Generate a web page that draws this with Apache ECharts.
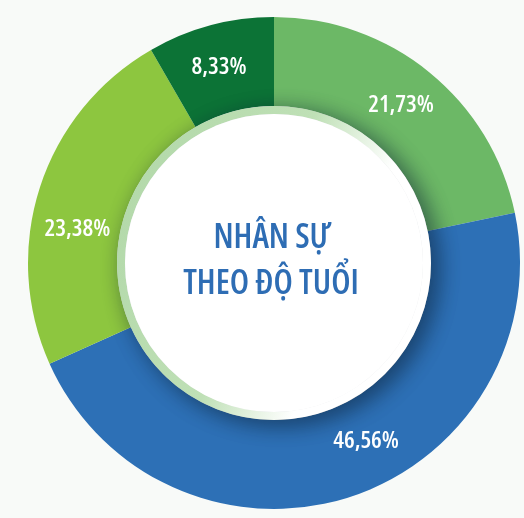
<!DOCTYPE html>
<html>
<head>
<meta charset="utf-8">
<style>
html,body{margin:0;padding:0;background:#f8faf8;}
#c{width:524px;height:518px;}
</style>
<script src="https://cdn.jsdelivr.net/npm/echarts@6/dist/echarts.min.js"></script>
</head>
<body>
<div id="c"></div>
<script>
var categories = ['Nhóm 1', 'Nhóm 2', 'Nhóm 3', 'Nhóm 4'];
var values = [21.73, 46.56, 23.38, 8.33];
var colors = ['#6cb866', '#2d70b6', '#8dc63f', '#0c7336'];
var labelOffsets = [[-2, 1], [29, -16], [-2, 29], [-2, 2]];
var titleLines = ['NHÂN SỰ', 'THEO ĐỘ TUỔI'];

var chart = echarts.init(document.getElementById('c'), null, {renderer: 'canvas'});
var data = categories.map(function (c, i) {
  return {
    name: c,
    value: values[i],
    itemStyle: {color: colors[i]},
    label: {offset: labelOffsets[i]}
  };
});
var cx = 274, cy = 263;
chart.setOption({
  backgroundColor: '#f8faf8',
  animation: false,
  series: [{
    type: 'pie',
    center: [cx, cy],
    radius: [157, 246],
    startAngle: 90,
    clockwise: true,
    silent: true,
    data: data,
    itemStyle: {borderWidth: 0},
    label: {
      show: true,
      position: 'inside',
      color: '#ffffff',
      fontFamily: '"Open Sans"',
      fontWeight: '600 condensed',
      fontSize: 24,
      formatter: function (p) { return p.value.toFixed(2).replace('.', ',') + '%'; }
    },
    labelLine: {show: false},
    emphasis: {disabled: true}
  }],
  graphic: [
    {
      type: 'circle',
      z: 10,
      shape: {cx: cx, cy: cy, r: 153},
      style: {
        fill: '#ffffff',
        stroke: new echarts.graphic.LinearGradient(0, 0.3, 1, 0.7, [
          {offset: 0, color: '#b3d9aa'},
          {offset: 0.45, color: '#bfe0b6'},
          {offset: 0.72, color: '#ffffff'},
          {offset: 1, color: '#ffffff'}
        ]),
        lineWidth: 8,
        shadowBlur: 22,
        shadowOffsetX: 7,
        shadowOffsetY: 5,
        shadowColor: 'rgba(10,30,50,0.55)'
      }
    },
    {
      type: 'circle',
      z: 11,
      shape: {cx: cx, cy: cy, r: 149},
      style: {fill: '#ffffff'}
    },
    {
      type: 'text',
      z: 12,
      x: 272, y: 238,
      style: {
        text: titleLines[0],
        fill: '#2e6db4',
        font: '600 condensed 34px "Open Sans"',
        textAlign: 'center',
        textVerticalAlign: 'middle'
      }
    },
    {
      type: 'text',
      z: 12,
      x: 271, y: 284,
      style: {
        text: titleLines[1],
        fill: '#2e6db4',
        font: '600 condensed 34px "Open Sans"',
        textAlign: 'center',
        textVerticalAlign: 'middle'
      }
    }
  ]
});
</script>
</body>
</html>
